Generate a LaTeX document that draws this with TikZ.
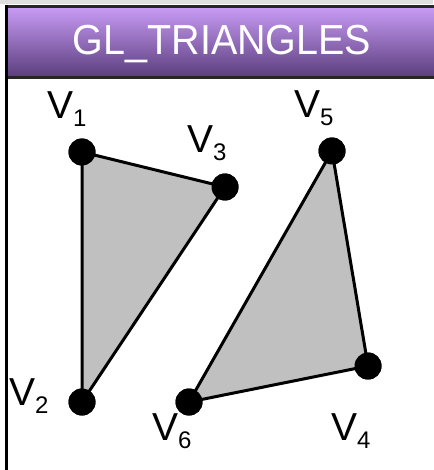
\documentclass[tikz,border=0pt]{standalone}
\usepackage{fontspec}
\setmainfont{Liberation Sans}
\definecolor{hdtop}{HTML}{C99CF6}
\definecolor{hdbot}{HTML}{5A3D7C}
\definecolor{trifill}{HTML}{C0C0C0}
\tikzset{
  vdot/.style={circle,fill=black,inner sep=0pt,minimum size=27pt},
  edge/.style={draw=black,line width=3pt},
  vlabel/.style={anchor=base west,inner sep=0pt,font=\fontsize{39}{39}\selectfont},
  title/.style={anchor=base,inner sep=0pt,text=white,font=\fontsize{42}{42}\selectfont,xscale=0.94}
}
\newcommand{\vsub}[1]{V\raisebox{-8pt}{\fontsize{24}{24}\selectfont #1}}
\begin{document}
\begin{tikzpicture}[x=1pt,y=-1pt]
\useasboundingbox (0,0) rectangle (433,470);
\fill[white] (0,0) rectangle (433,470);
\fill[gray!25] (0,0) rectangle (433,4);
% header
\shade[top color=hdtop,bottom color=hdbot] (6.5,6.5) rectangle (436,77.5);
\draw[line width=3pt,black!85] (6.5,6.5) -- (436,6.5);
\draw[line width=3pt,black!85] (6.5,77.5) -- (436,77.5);
\draw[line width=3pt,black] (6.5,5) -- (6.5,472);
\node[title] (ttl) at (222,55) {GL\_TRIANGLES};
% vertices
\node[vdot] (v1) at (82,152) {};
\node[vdot] (v3) at (225,187) {};
\node[vdot] (v2) at (82,402) {};
\node[vdot] (v5) at (332,151) {};
\node[vdot] (v4) at (368,366) {};
\node[vdot] (v6) at (189,402) {};
% triangles
\fill[trifill] (v1.center) -- (v3.center) -- (v2.center) -- cycle;
\fill[trifill] (v5.center) -- (v4.center) -- (v6.center) -- cycle;
\draw[edge] (v1.center) -- (v3.center) -- (v2.center) -- cycle;
\draw[edge] (v5.center) -- (v4.center) -- (v6.center) -- cycle;
\foreach \n in {v1,v2,v3,v4,v5,v6} \fill[black] (\n) circle (13.5pt);
% labels
\node[vlabel] (l1) at (47,119) {\vsub{1}};
\node[vlabel] (l3) at (187,153) {\vsub{3}};
\node[vlabel] (l5) at (294,118) {\vsub{5}};
\node[vlabel] (l2) at (9,405) {\vsub{2}};
\node[vlabel] (l6) at (152,440) {\vsub{6}};
\node[vlabel] (l4) at (331,440) {\vsub{4}};
\end{tikzpicture}
\end{document}
